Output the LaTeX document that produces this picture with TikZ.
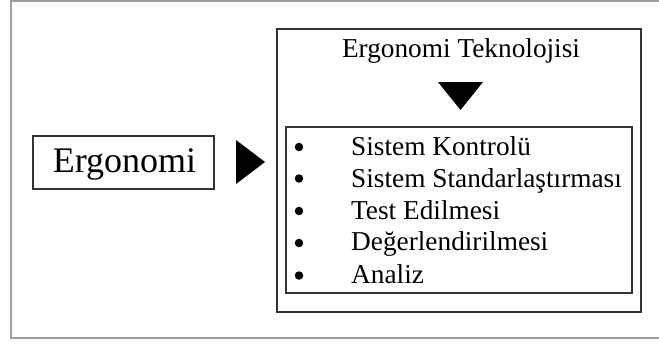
\documentclass[tikz,border=0pt]{standalone}
\usepackage{fontspec}
\setmainfont{Liberation Serif}
\begin{document}
\begin{tikzpicture}[x=1pt,y=-1pt,
  frameline/.style={draw=black!38,line width=1.4pt},
  boxline/.style={draw=black!80,line width=1.1pt},
  listtext/.style={anchor=base west,inner sep=0pt,font=\fontsize{27.3}{30}\selectfont},
  bulletdot/.style={circle,fill=black,inner sep=0pt,minimum size=8.5pt},
  pointer/.style={fill=black}]
  \useasboundingbox (0,0) rectangle (659,343);
  % page frame, open on the right
  \draw[frameline] (662,1) -- (11,1) -- (11,338) -- (662,338);

  % left box
  \node[boxline,rectangle,minimum width=181pt,minimum height=53pt,inner sep=0pt]
    (erg) at (123.5,162.5) {};
  \node[anchor=base,inner sep=0pt,font=\fontsize{36}{40}\selectfont]
    (ergtxt) at (124.5,172) {Ergonomi};

  % arrow to the right
  \coordinate (ra1) at (236,140);
  \coordinate (ra2) at (236,184);
  \coordinate (ra3) at (265,162);
  \fill[pointer] (ra1) -- (ra3) -- (ra2) -- cycle;

  % outer box
  \node[boxline,rectangle,minimum width=364pt,minimum height=283pt,inner sep=0pt]
    (tech) at (459,170.5) {};
  \node[anchor=base,inner sep=0pt,font=\fontsize{27.3}{30}\selectfont]
    (title) at (461,57) {Ergonomi Teknolojisi};

  % arrow down
  \coordinate (da1) at (438,82);
  \coordinate (da2) at (483,82);
  \coordinate (da3) at (460.5,110);
  \fill[pointer] (da1) -- (da2) -- (da3) -- cycle;

  % inner list box
  \node[boxline,rectangle,minimum width=346pt,minimum height=166pt,inner sep=0pt]
    (list) at (459,210) {};

  \node[bulletdot] (b1) at (299,147) {};
  \node[bulletdot] (b2) at (299,178.5) {};
  \node[bulletdot] (b3) at (299,211) {};
  \node[bulletdot] (b4) at (299,243) {};
  \node[bulletdot] (b5) at (299,275.5) {};

  \node[listtext] (t1) at (351,155) {Sistem Kontrolü};
  \node[listtext] (t2) at (351,187) {Sistem Standarlaştırması};
  \node[listtext] (t3) at (351,219) {Test Edilmesi};
  \node[listtext] (t4) at (351,250.5) {Değerlendirilmesi};
  \node[listtext] (t5) at (351,283) {Analiz};
\end{tikzpicture}
\end{document}
